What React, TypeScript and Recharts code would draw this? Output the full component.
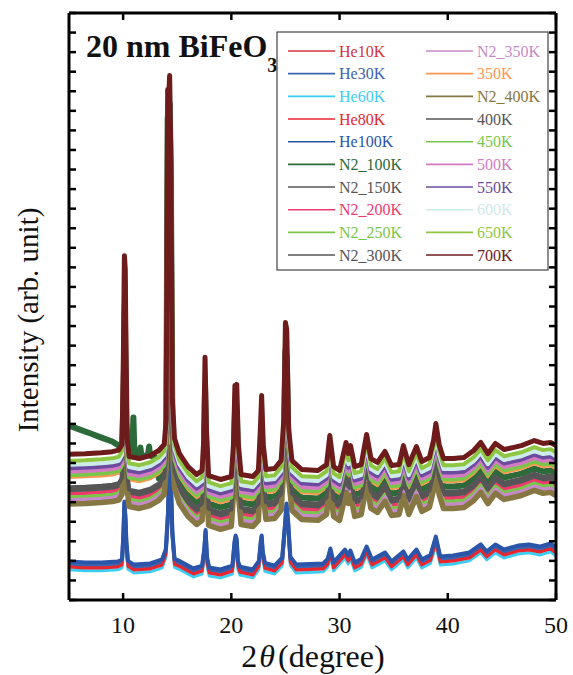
import React from "react";
import { LineChart, Line, XAxis, YAxis } from "recharts";

// 2θ grid and intensity of the top trace (700K); the other furnace / N2 runs sit below it
const bandTheta = [
  5.0, 6.5, 8.0, 9.0, 9.6, 9.9, 10.02, 10.12, 10.2, 10.25, 10.38, 10.55, 11.5, 12.5, 13.3, 13.8,
  13.98, 14.12, 14.2, 14.3, 14.42, 14.55, 14.75, 15.2, 16.0, 16.8, 17.3, 17.45, 17.57, 17.7, 17.9,
  19.0, 20.0, 20.2, 20.33, 20.42, 20.5, 20.65, 20.9, 22.0, 22.5, 22.68, 22.8, 22.95, 23.2, 24.0,
  24.6, 24.85, 25.0, 25.12, 25.3, 25.6, 26.5, 28.0, 28.8, 29.1, 29.45, 30.0, 30.6, 30.82, 31.02,
  31.4, 32.0, 32.5, 32.9, 33.5, 34.2, 34.8, 35.5, 35.9, 36.4, 37.1, 37.6, 38.3, 38.7, 38.9, 39.2,
  39.6, 40.5, 41.5, 42.4, 43.05, 43.7, 44.4, 45.2, 46.0, 46.8, 48.0, 48.8, 49.5, 50.0,
];
const band700K = [
  7.45, 7.48, 7.53, 7.58, 7.66, 7.95, 12.29, 17.6, 16.89, 13.82, 8.2, 7.33, 7.23, 7.38, 7.64, 7.95,
  9.22, 26.09, 25.57, 26.8, 22.51, 10.25, 8.25, 7.48, 6.82, 6.41, 6.62, 8.2, 12.4, 8.71, 6.36,
  6.16, 6.31, 7.95, 10.96, 10.5, 11.02, 7.95, 6.41, 6.31, 6.62, 8.71, 10.45, 7.95, 6.67, 6.72,
  7.13, 9.22, 14.18, 13.82, 8.71, 7.13, 6.67, 6.62, 6.92, 8.41, 6.82, 6.62, 8.05, 7.48, 7.89,
  6.82, 6.92, 8.46, 7.23, 7.03, 7.59, 6.87, 6.92, 7.89, 6.92, 7.84, 7.08, 7.28, 8.2, 9.02, 7.95,
  7.23, 7.23, 7.28, 7.64, 8.05, 7.48, 8.0, 7.69, 7.79, 7.89, 8.15, 8.0, 8.05, 7.89,
];

// He-cryostat runs (bottom group)
const heTheta = [
  5.0, 6.5, 8.0, 9.5, 9.9, 10.02, 10.12, 10.22, 10.3, 10.45, 11.0, 12.5, 13.6, 13.95, 14.15, 14.3,
  14.42, 14.55, 14.75, 15.3, 16.5, 17.3, 17.5, 17.62, 17.75, 17.95, 19.0, 20.1, 20.3, 20.4, 20.5,
  20.6, 20.8, 22.0, 22.55, 22.72, 22.8, 22.9, 23.1, 24.0, 24.7, 24.95, 25.1, 25.25, 25.45, 26.0,
  28.5, 28.9, 29.15, 29.45, 30.5, 30.8, 31.0, 31.4, 32.0, 32.5, 33.0, 34.2, 34.8, 35.9, 36.3, 37.1,
  37.6, 38.4, 38.9, 39.3, 40.5, 42.0, 43.05, 43.6, 44.4, 45.2, 46.5, 47.5, 48.5, 49.5, 50.0,
];
const he100K = [
  1.97, 1.92, 1.92, 1.97, 2.07, 3.3, 5.03, 4.2, 3.0, 2.0, 1.81, 1.87, 2.07, 2.6, 4.5, 7.84,
  6.0, 3.5, 2.1, 1.97, 1.61, 1.76, 2.6, 3.58, 2.2, 1.66, 1.56, 1.76, 3.0, 3.3, 3.1,
  2.0, 1.7, 1.56, 2.0, 3.0, 3.3, 2.5, 1.9, 1.76, 2.17, 3.8, 4.93, 4.0, 2.2, 1.81,
  1.87, 2.1, 2.63, 1.92, 2.58, 2.27, 2.53, 1.92, 2.1, 2.73, 2.07, 2.43, 1.97, 2.48, 2.07, 2.58,
  2.07, 2.3, 3.24, 2.22, 2.27, 2.43, 2.84, 2.48, 2.84, 2.58, 2.78, 2.84, 2.73, 2.89, 2.68,
];

// N2_100K has its own rising background at low angle
const n2LowTheta = [5.0, 6.0, 7.0, 8.0, 9.0, 9.6, 9.9, 10.05, 10.12, 10.25, 10.45, 10.85, 10.95, 11.05, 11.5, 11.6, 11.7, 12.3, 12.4, 12.5, 13.0];
const n2Low100K = [8.91, 8.71, 8.51, 8.3, 8.1, 7.89, 7.89, 10.25, 13.31, 9.22, 7.59, 7.59, 9.33, 7.43, 7.38, 7.79, 7.33, 7.43, 7.84, 7.38, 7.28];

const seriesNames = [
  "He10K", "He30K", "He60K", "He80K", "He100K", "N2_100K", "N2_150K", "N2_200K", "N2_250K", "N2_300K",
  "N2_350K", "350K", "N2_400K", "400K", "450K", "500K", "550K", "600K", "650K", "700K",
];
const seriesGroup = ["he", "he", "he", "he", "he", "n2", "band", "band", "band", "band", "band", "band", "band", "band", "band", "band", "band", "band", "band", "band"];
// how far each trace sits below its group's reference trace (arb. unit)
const seriesOffsets = [0.2, 0.1, 0.43, 0.28, 0, 1.43, 1.74, 2.02, 2.2, 1.84, 2.35, 1.2, 2.55, 1.69, 1.07, 0.89, 0.72, 0.54, 0.34, 0];

const yTicks = [0, 1, 2, 3, 4, 5, 6, 7, 8, 9, 10, 11, 12, 13, 14, 15, 16, 17, 18, 19, 20, 21, 22, 23, 24, 25, 26, 27, 28, 29, 30];
const xTicks = [10, 20, 30, 40, 50];

const COLORS = [
  "#d4343c", "#3e63b0", "#3ccdf4", "#e8262d", "#2b55a8", "#2c6a3a", "#565656", "#f03a6e", "#79c74a", "#565656",
  "#c68ac8", "#ff9650", "#867743", "#565656", "#79c74a", "#d27bc4", "#6a4b9e", "#cdebea", "#8fc641", "#6e1b1b",
];
const WIDTHS = [3, 4, 3, 3, 4, 6, 4, 4, 4, 4, 4, 2.5, 5.5, 4, 4, 4, 4, 4, 4, 5];

const SERIF = "Liberation Serif, Times New Roman, serif";

const buildSeries = (i: number) => {
  const off = seriesOffsets[i];
  if (seriesGroup[i] === "he") return heTheta.map((x, k) => ({ x, y: he100K[k] - off }));
  const band = bandTheta.map((x, k) => ({ x, y: band700K[k] - off }));
  if (seriesGroup[i] === "n2") {
    return [...n2LowTheta.map((x, k) => ({ x, y: n2Low100K[k] })), ...band.filter((p) => p.x > 13.2)];
  }
  return band;
};

const axisLine = { stroke: "#000", strokeWidth: 3 };
const tickLine = { stroke: "#000", strokeWidth: 2.5 };
const NoLabel = () => <g />;

const Overlay = () => (
  <svg width={573} height={675} style={{ position: "absolute", left: 0, top: 0, pointerEvents: "none", fontFamily: SERIF }}>
    <text x={86} y={57} fontSize={32} fontWeight="bold" fill="#111">
      20 nm BiFeO<tspan fontSize={20} dy={15}>3</tspan>
    </text>

    {/* legend */}
    <rect x={277} y={32} width={271} height={238} fill="#fff" stroke="#444" strokeWidth={1.2} />
    {seriesNames.map((name, i) => {
      const col = i < 10 ? 0 : 1;
      const row = i % 10;
      const y = 51 + row * 22.67;
      const lx = col === 0 ? 288 : 426;
      return (
        <g key={name}>
          <line x1={lx} x2={lx + 47} y1={y} y2={y} stroke={COLORS[i]} strokeWidth={1.6} />
          <text x={lx + 51} y={y + 5.5} fontSize={16} fill={COLORS[i]}>
            {name}
          </text>
        </g>
      );
    })}

    <text transform="translate(38,320) rotate(-90)" textAnchor="middle" fontSize={29} fill="#111">
      Intensity (arb. unit)
    </text>
    <text x={313} y={667} textAnchor="middle" fontSize={32} fill="#111">
      2<tspan dx={2} fontStyle="italic">θ</tspan><tspan dx={3}>(degree)</tspan>
    </text>
  </svg>
);

const App: React.FC = () => {
  return (
    <div style={{ position: "absolute", left: 0, top: 0, width: 573, height: 675, background: "#fff", fontFamily: SERIF }}>
      <LineChart width={573} height={675} margin={{ top: 3, right: 7, bottom: 45, left: 59 }}>
        <XAxis
          dataKey="x"
          type="number"
          domain={[5, 50]}
          ticks={xTicks}
          interval={0}
          allowDataOverflow
          height={30}
          axisLine={axisLine}
          tickLine={tickLine}
          tickSize={-7}
          tickMargin={23}
          tick={{ fill: "#111", fontSize: 24, fontFamily: SERIF }}
        />
        <XAxis
          xAxisId="top"
          orientation="top"
          dataKey="x"
          type="number"
          domain={[5, 50]}
          ticks={xTicks}
          interval={0}
          allowDataOverflow
          height={10}
          axisLine={axisLine}
          tickLine={tickLine}
          tickSize={-7}
          tick={NoLabel}
        />
        <YAxis
          type="number"
          domain={[0, 30]}
          ticks={yTicks}
          interval={0}
          allowDataOverflow
          width={10}
          axisLine={axisLine}
          tickLine={tickLine}
          tickSize={-7}
          tick={NoLabel}
        />
        <YAxis
          yAxisId="right"
          orientation="right"
          type="number"
          domain={[0, 30]}
          ticks={yTicks}
          interval={0}
          allowDataOverflow
          width={10}
          axisLine={axisLine}
          tickLine={tickLine}
          tickSize={-7}
          tick={NoLabel}
        />
        {seriesNames.map((name, i) => (
          <Line
            key={name}
            name={name}
            data={buildSeries(i)}
            dataKey="y"
            type="linear"
            stroke={COLORS[i]}
            strokeWidth={WIDTHS[i]}
            strokeLinejoin="round"
            dot={false}
            activeDot={false}
            isAnimationActive={false}
          />
        ))}
      </LineChart>
      <Overlay />
    </div>
  );
};

export default App;
